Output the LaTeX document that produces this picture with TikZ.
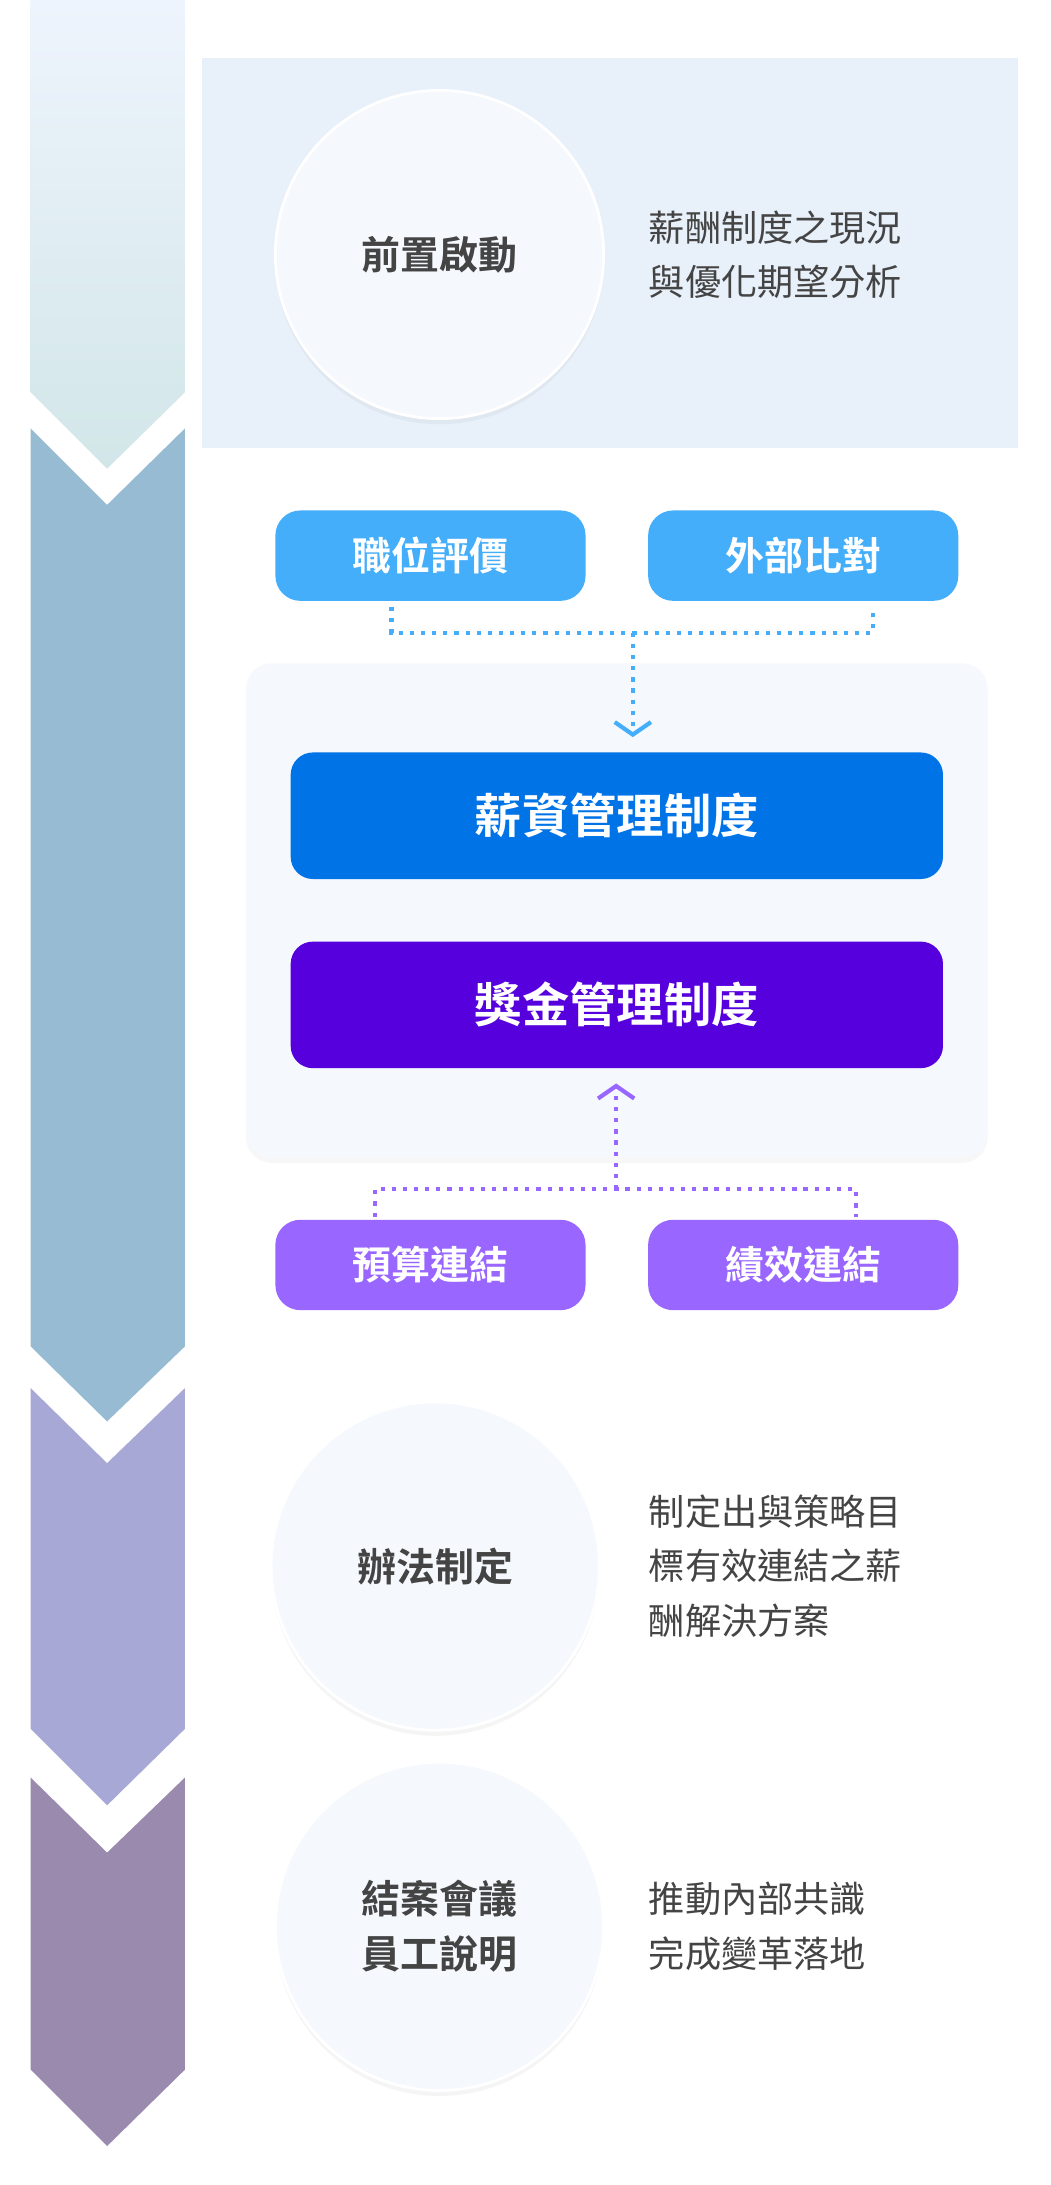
\documentclass[tikz,border=0pt]{standalone}
\usepackage{fontspec}
\setmainfont{Noto Sans CJK TC}
\newfontfamily\cjkb{Noto Sans CJK TC Bold}
\usetikzlibrary{arrows.meta,shadows}
\definecolor{seg1a}{HTML}{EEF4FD}\definecolor{seg1b}{HTML}{D2E6E8}
\definecolor{seg2}{HTML}{97BBD3}\definecolor{seg3}{HTML}{A8A8D6}\definecolor{seg4}{HTML}{9A8AAE}
\definecolor{panel}{HTML}{E8F0FA}\definecolor{circ}{HTML}{F5F8FD}
\definecolor{skyb}{HTML}{44AEFB}\definecolor{blueb}{HTML}{0073E6}
\definecolor{violb}{HTML}{5500DD}\definecolor{lavb}{HTML}{9966FF}
\definecolor{txt}{HTML}{444444}
\begin{document}
\begin{tikzpicture}[x=1pt,y=-1pt,
  stagecirc/.style={circle,minimum size=236pt,fill=circ,draw=white,line width=2pt,
    drop shadow={shadow xshift=0pt,shadow yshift=-4pt,opacity=.08},
    font=\cjkb\fontsize{28}{40}\selectfont,text=txt,align=center},
  desc/.style={anchor=west,align=left,font=\fontsize{26}{39}\selectfont,text=txt},
  pill/.style={rounded corners=18pt,minimum width=223pt,minimum height=65pt,text=white,
    font=\cjkb\fontsize{28}{34}\selectfont},
  bigbox/.style={rounded corners=16pt,minimum width=469pt,minimum height=91pt,text=white,
    font=\cjkb\fontsize{34}{40}\selectfont},
  dots/.style={line width=3pt,dash pattern=on 3pt off 5pt},
  tip/.style={-{Straight Barb[length=9pt,width=26pt,line width=3pt]}}]
\useasboundingbox (0,0) rectangle (755,1571);
\fill[white] (0,0) rectangle (755,1571);
% left chevrons
\shade[top color=seg1a,bottom color=seg1b] (22,0)--(133,0)--(133,282)--(77,337)--(22,282)--cycle;
\fill[seg2] (22,308)--(77,363)--(133,308)--(133,968)--(77,1022)--(22,968)--cycle;
\fill[seg3] (22,998)--(77,1052)--(133,998)--(133,1243)--(77,1298)--(22,1243)--cycle;
\fill[seg4] (22,1278)--(77,1332)--(133,1278)--(133,1488)--(77,1543)--(22,1488)--cycle;
% top panel
\fill[panel] (145,42) rectangle (732,322);
\node[stagecirc] (c1) at (316,183) {前置啟動};
\node[desc] (d1) at (463,183) {薪酬制度之現況\\與優化期望分析};
% middle panel
\node[rounded corners=18pt,minimum width=533pt,minimum height=355pt,fill=circ,
  drop shadow={shadow xshift=0pt,shadow yshift=-4pt,opacity=.06}] (mp) at (443.5,654.5) {};
\node[pill,fill=skyb] (p1) at (309.5,399.5) {職位評價};
\node[pill,fill=skyb] (p2) at (577.5,399.5) {外部比對};
\node[bigbox,fill=blueb] (b1) at (443.5,586.5) {薪資管理制度};
\node[bigbox,fill=violb] (b2) at (443.5,722.5) {獎金管理制度};
\node[pill,fill=lavb] (p3) at (309.5,909.5) {預算連結};
\node[pill,fill=lavb] (p4) at (577.5,909.5) {績效連結};
\coordinate (j1) at (455,455);
\coordinate (j2) at (443,855);
\draw[dots,skyb] ([xshift=-28pt,yshift=-4pt]p1.south) |- (j1) -| ([xshift=50pt,yshift=-4pt]p2.south);
\draw[dots,skyb,tip] (j1) -- (455,530);
\draw[dots,lavb] ([xshift=-40pt,yshift=2pt]p3.north) |- (j2) -| ([xshift=38pt,yshift=2pt]p4.north);
\draw[dots,lavb,tip] (j2) -- (443,779);
% lower stages
\node[stagecirc] (c2) at (313,1126) {辦法制定};
\node[desc] (d2) at (463,1126) {制定出與策略目\\標有效連結之薪\\酬解決方案};
\node[stagecirc] (c3) at (316,1385) {結案會議\\員工說明};
\node[desc] (d3) at (463,1385) {推動內部共識\\完成變革落地};
\end{tikzpicture}
\end{document}
